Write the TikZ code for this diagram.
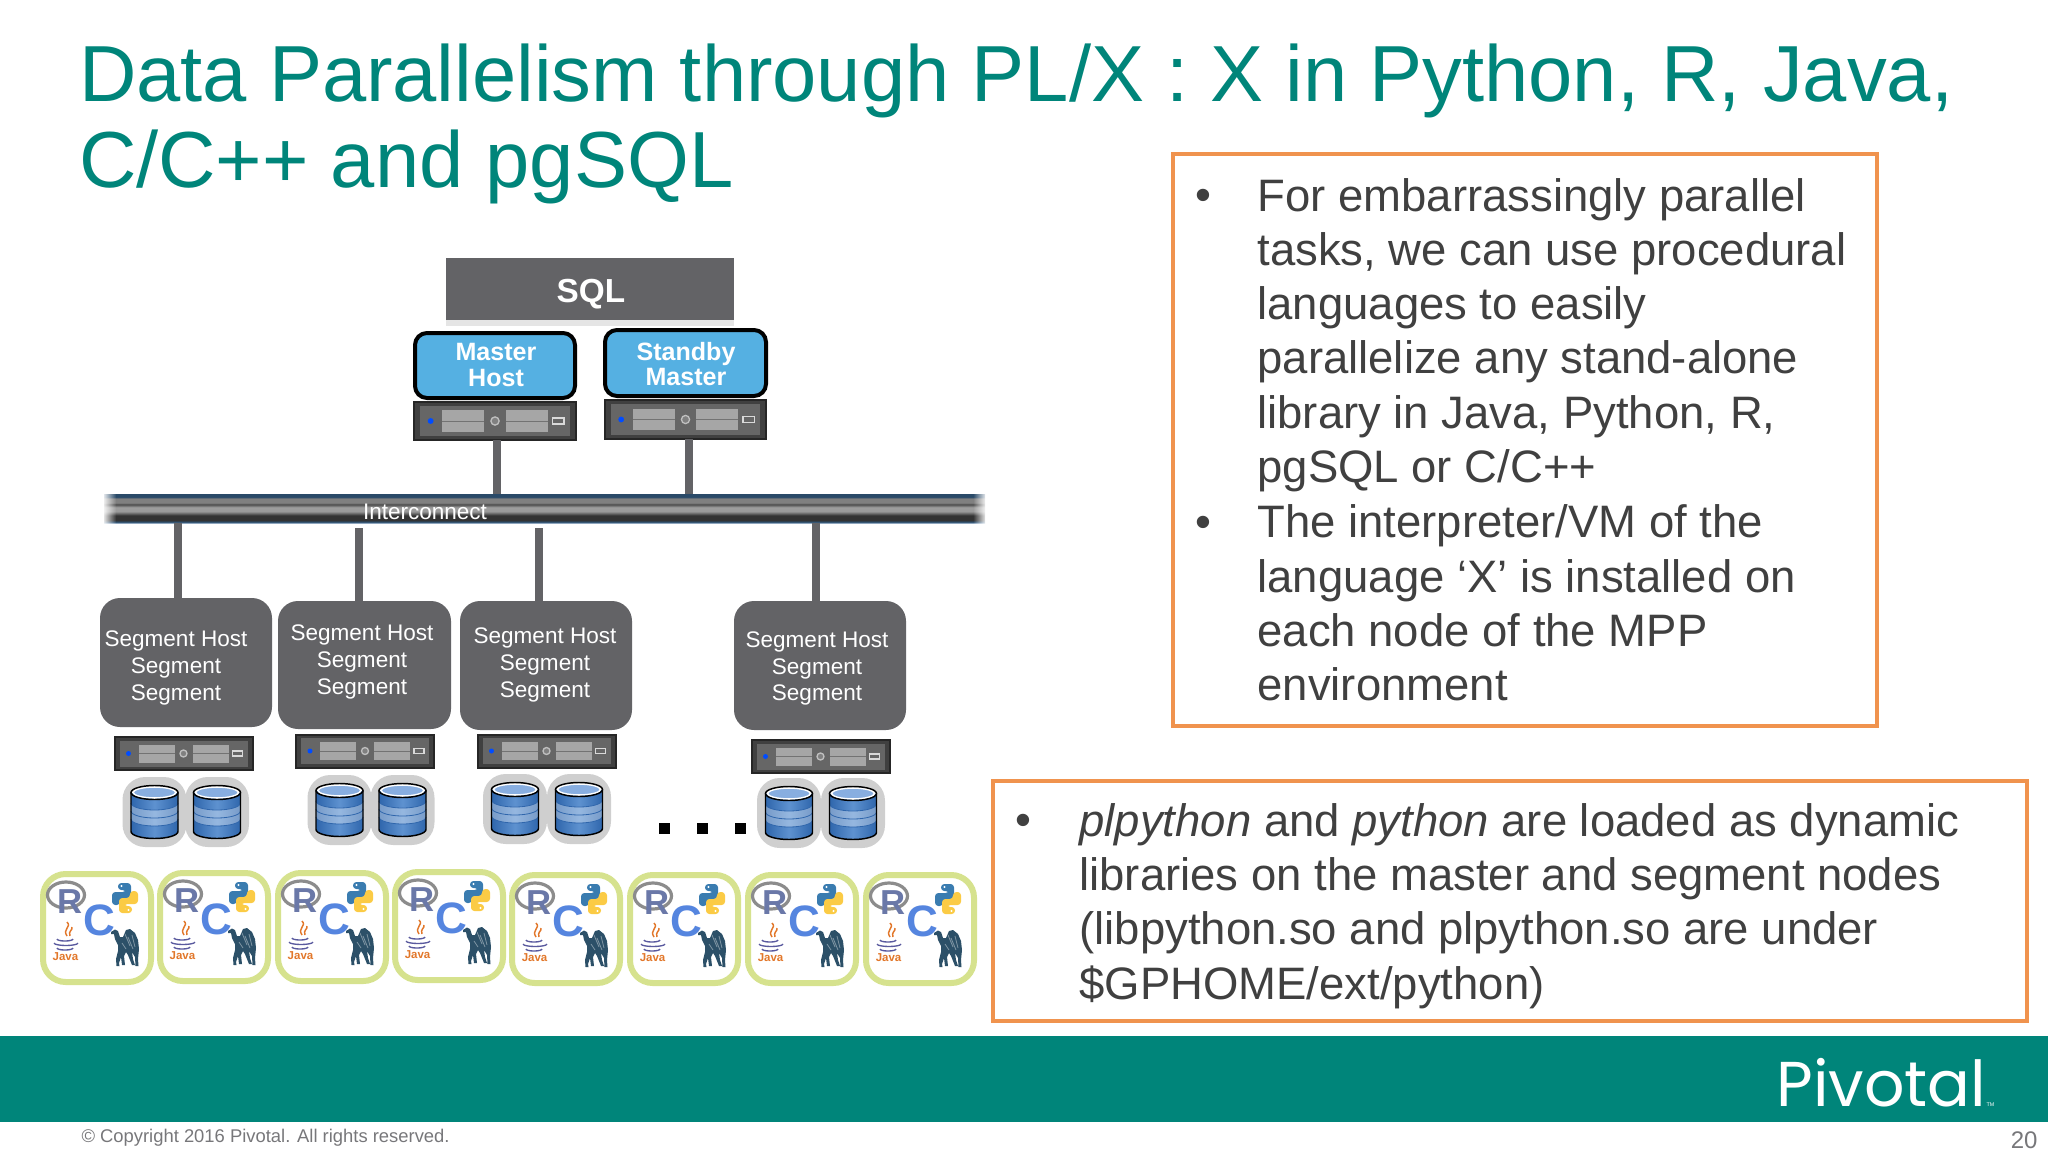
\documentclass[tikz,border=0pt]{standalone}
\usepackage{fontspec}
\usetikzlibrary{fadings}
\setmainfont{Liberation Sans}
\newfontfamily\logofont{Poppins}

\definecolor{tealband}{HTML}{00857A}
\definecolor{boxorange}{HTML}{F0934E}
\definecolor{slategrey}{HTML}{636366}
\definecolor{hostblue}{HTML}{55B0E2}
\definecolor{tilegreen}{HTML}{D6E28E}
\definecolor{footgrey}{HTML}{77777A}
\definecolor{pyblue}{HTML}{3A7CB0}
\definecolor{pyyellow}{HTML}{FBCB45}
\definecolor{javaorange}{HTML}{E2772A}
\definecolor{camelblue}{HTML}{2C5068}
\definecolor{rslate}{HTML}{6A78A8}
\definecolor{cblue}{HTML}{5585DF}
\definecolor{busnavy}{HTML}{2A4A68}
\definecolor{busedge}{HTML}{8FA6BE}
\definecolor{dbdark}{HTML}{2F66AC}
\definecolor{dbmid}{HTML}{5E92D0}
\definecolor{dbtop}{HTML}{88AEE0}

\pgfdeclareverticalshading{busshade}{100bp}{
  color(0bp)=(busedge);
  color(25bp)=(busedge);
  color(27bp)=(busnavy);
  color(30bp)=(black!80);
  color(38bp)=(black!80);
  color(45bp)=(black!40);
  color(52bp)=(black!38);
  color(57bp)=(black!70);
  color(60bp)=(black!50);
  color(67bp)=(black!50);
  color(70bp)=(busnavy);
  color(75bp)=(busnavy);
  color(100bp)=(busnavy)}

\tikzset{
  every picture/.style={line width=0.75pt},
  every pic/.style={yscale=-1},
  boxsize/.style 2 args={minimum width=#1*0.75pt,minimum height=#2*0.75pt,inner sep=0pt,outer sep=0pt},
  sqlbox/.style={fill=slategrey},
  masterbox/.style={draw=black,line width=3pt,fill=hostblue,rounded corners=9pt},
  segbox/.style={fill=slategrey,rounded corners=15pt},
  calloutbox/.style={draw=boxorange,line width=3.5pt},
  link/.style={draw=slategrey,line width=6pt},
  titletext/.style={text=tealband,align=left,font=\fontsize{59.65}{64}\selectfont},
  bodytext/.style={text=black!75,align=left,font=\fontsize{34.1}{40.7}\selectfont},
  boldtext/.style={text=white,align=center,font=\bfseries\fontsize{18.8}{18.8}\selectfont},
  seglabel/.style={text=white,align=center,font=\fontsize{16.9}{20}\selectfont},
  srvframe/.pic={
    \node[boxsize={138}{33},fill=black!75,draw=black!85,line width=1.5pt,transform shape] (-body) at (0,0) {};
    \fill[black!60] (-64,-13) rectangle (64,13);
    \fill[black!35] (-45,-9) rectangle (-9,9);
    \fill[black!35] (9,-9) rectangle (45,9);
    \draw[black!55,line width=0.5pt] (-45,0) -- (-9,0) (9,0) -- (45,0);
    \fill[blue!70!cyan] (-55,0) circle (2.5);
    \draw[black!25,fill=black!50,line width=1pt] (0,0) circle (3.5);
    \draw[black!15,line width=1pt] (49,-2.5) rectangle (59,2.5);
  },
  dbicon/.pic={
    \fill[black!19,rounded corners=17pt] (-32,-35) rectangle (32,35);
    \path[left color=dbdark,right color=dbdark,middle color=dbmid]
      (-23.5,-19.5) -- (-23.5,19.5) arc (180:0:23.5 and 7) -- (23.5,-19.5) -- cycle;
    \fill[white,opacity=0.35] (-23.5,-9) arc (180:0:23.5 and 7) -- (23.5,7) arc (0:180:23.5 and 7) -- cycle;
    \draw[dbdark,line width=0.6pt] (-23.5,-9) arc (180:0:23.5 and 7) (-23.5,-1) arc (180:0:23.5 and 7) (-23.5,7) arc (180:0:23.5 and 7);
    \draw[black,line width=1.1pt] (-23.5,-19.5) -- (-23.5,19.5) arc (180:0:23.5 and 7) -- (23.5,-19.5);
    \draw[white,fill=dbtop,line width=1.2pt] (0,-19.5) ellipse (21.5 and 5.5);
    \draw[black,line width=1.1pt] (0,-19.5) ellipse (23.5 and 7);
  },
  langtile/.pic={
    \draw[draw=tilegreen,fill=white,line width=4.5pt,rounded corners=17pt] (3,3) rectangle (111,111);
    % R logo
    \draw[black!45,line width=2.4pt] (26,24) ellipse (18.5 and 13);
    \node[font=\bfseries\fontsize{26}{26}\selectfont,text=rslate,inner sep=0pt] (-r) at (30,30.5) {R};
    % C
    \node[font=\bfseries\fontsize{33}{33}\selectfont,text=cblue,inner sep=0pt] (-c) at (59,49) {C};
    % python
    \fill[pyblue,rounded corners=2.5pt] (78,12) -- (91,12) -- (91,27) -- (80,27) -- (80,34) -- (72,34) -- (72,21) -- (86,21) -- (86,19) -- (78,19) -- cycle;
    \fill[pyyellow,rounded corners=2.5pt,rotate around={180:(85,27)}] (78,12) -- (91,12) -- (91,27) -- (80,27) -- (80,34) -- (72,34) -- (72,21) -- (86,21) -- (86,19) -- (78,19) -- cycle;
    \fill[white] (81.5,15) circle (1.1) (88.5,39) circle (1.1);
    % java
    \draw[javaorange,line width=1.1pt] (27,51) .. controls (32,56) and (22,58) .. (27,65) (32,56) .. controls (33,59) and (28,60) .. (30,65);
    \draw[black!10!blue!30!gray,line width=1pt] (17,68) arc (180:0:8 and 2) (14,72) arc (180:0:12 and 2.5) (17,77) arc (180:0:8 and 2);
    \node[font=\bfseries\fontsize{8.6}{8.6}\selectfont,text=javaorange,inner sep=0pt] (-j) at (25.5,86) {Java};
    % camel
    \fill[camelblue] (71,61) -- (75,58.5) -- (78,60) -- (80,66) -- (83,66) -- (86,59) -- (90,58) -- (95,62) -- (98,69) -- (99,78) -- (98,88) -- (98.5,95) -- (95.5,95) -- (95,86) -- (92,81) -- (93,88) -- (95,94) -- (92,94) -- (88,84) -- (86,81) -- (84,85) -- (85,94) -- (82,94) -- (81,86) -- (79,92) -- (79.5,95) -- (76.5,95) -- (76,88) -- (78,80) -- (78,74) -- (75,68) -- (74,63) -- (71,63) -- cycle;
    \draw[white,opacity=0.4,line width=0.6pt] (85,63) -- (90,75) (92,64) -- (95,76) (82,72) -- (86,78) (88,66) -- (93,78);
  }
}

\begin{document}
\begin{tikzpicture}[x=0.75pt,y=0.75pt,yscale=-1,xscale=1]
\useasboundingbox (0,0) rectangle (2048,1152);

% Title
\node[titletext,anchor=west,inner sep=0pt] (title) at (78.5,124) {Data Parallelism through PL/X : X in Python, R, Java,\\C/C++ and pgSQL};

% Footer band
\node[boxsize={2048}{86},fill=tealband,anchor=north west] (band) at (0,1036) {};
\node[text=white,anchor=base west,inner sep=0pt,font=\logofont\fontsize{47.5}{47.5}\selectfont] (logo) at (1776,1106) {Pivotal};
\node[text=white,anchor=base west,inner sep=0pt,font=\fontsize{4}{4}\selectfont] (tm) at (1986,1106) {TM};
\node[text=footgrey,anchor=west,inner sep=0pt,font=\fontsize{13.8}{13.8}\selectfont] (copyright) at (81,1138) {© Copyright 2016 Pivotal. All rights reserved.};
\node[text=footgrey,anchor=east,inner sep=0pt,font=\fontsize{18}{18}\selectfont] (pageno) at (2038,1140) {20};

% SQL and masters
\fill[black!10] (446,262) rectangle (734,326);
\node[boxsize={288}{62},sqlbox] (sql) at (590,289) {};
\node[boldtext,font=\bfseries\fontsize{25}{25}\selectfont] (sqltext) at (591,294) {SQL};
\node[boxsize={160}{65},masterbox,align=center] (master) at (495,365.5) {};
\node[boxsize={161}{66},masterbox] (standby) at (685.5,363) {};
\node[boldtext] (mastertext) at (496,365) {Master\\Host};
\node[boldtext] (standbytext) at (686,364) {Standby\\Master};
\pic[scale=1.17] (srvm) at (495,421) {srvframe};
\pic[scale=1.17] (srvs) at (685.5,419.5) {srvframe};

% Interconnect
\node[boxsize={881}{29},shading=busshade] (bus) at (544.5,508.5) {};
\fill[white,path fading=east] (102,490) rectangle (116,527);
\fill[white,path fading=west] (973,490) rectangle (987,527);
\coordinate (dropm) at (497,470);
\coordinate (drops) at (689,470);
\coordinate (dropa) at (178,560);
\coordinate (dropb) at (359,560);
\coordinate (dropc) at (539,560);
\coordinate (dropd) at (816,560);

% Segment hosts
\node[boxsize={172}{129},segbox] (sega) at (186,662.5) {};
\node[boxsize={173}{128},segbox] (segb) at (364.5,665) {};
\node[boxsize={172}{129},segbox] (segc) at (546,665.5) {};
\node[boxsize={172}{129},segbox] (segd) at (820,665.5) {};

% Straight lines
\draw[link] (srvm-body.north -| dropm) -- (dropm |- bus.north);
\draw[link] (srvs-body.north -| drops) -- (drops |- bus.north);
\draw[link] (dropa |- bus.south) -- (dropa |- sega.north);
\draw[link,shorten <=3.75pt] (dropb |- bus.south) -- (dropb |- segb.north);
\draw[link,shorten <=3.75pt] (dropc |- bus.south) -- (dropc |- segc.north);
\draw[link] (dropd |- bus.south) -- (dropd |- segd.north);

\node[seglabel] (bustext) at (425,512) {Interconnect};
\node[seglabel] (labela) at (176,668) {Segment Host\\Segment\\Segment};
\node[seglabel] (labelb) at (362,662) {Segment Host\\Segment\\Segment};
\node[seglabel] (labelc) at (545,665) {Segment Host\\Segment\\Segment};
\node[seglabel] (labeld) at (817,668.5) {Segment Host\\Segment\\Segment};

% Servers
\pic (srva) at (183.5,753.5) {srvframe};
\pic (srvb) at (365,751) {srvframe};
\pic (srvc) at (546.5,751) {srvframe};
\pic (srvd) at (820.5,756.5) {srvframe};

% Disks
\pic at (154.5,812) {dbicon};
\pic at (217,812) {dbicon};
\pic at (339.5,810) {dbicon};
\pic at (402.5,810) {dbicon};
\pic at (515,809) {dbicon};
\pic at (579,809) {dbicon};
\pic at (789,813) {dbicon};
\pic at (853,813) {dbicon};

% Dots
\foreach \dotx in {664,702,740}
  \fill[black] (\dotx-5.5,823) rectangle (\dotx+5.5,834);

% Language tiles
\foreach \tilex/\tiley [count=\i] in {40/871,157/870,275/870,392/869,509/872,627/872,745/872,863/872}
  \pic (tile\i) at (\tilex,\tiley) {langtile};

% Callouts
\node[boxsize={704}{572},calloutbox,anchor=north west] (callouta) at (1173,154) {};
\node[boxsize={1034}{240},calloutbox,anchor=north west] (calloutb) at (993,781) {};

\node[bodytext,anchor=west,inner sep=0pt] (bula) at (1195,200) {•};
\node[bodytext,anchor=west,inner sep=0pt] (paraa) at (1257,335) {For embarrassingly parallel\\tasks, we can use procedural\\languages to easily\\parallelize any stand-alone\\library in Java, Python, R,\\pgSQL or C/C++};
\node[bodytext,anchor=west,inner sep=0pt] (bulb) at (1195,527) {•};
\node[bodytext,anchor=west,inner sep=0pt] (parab) at (1257,603) {The interpreter/VM of the\\language ‘X’ is installed on\\each node of the MPP\\environment};
\node[bodytext,anchor=west,inner sep=0pt] (bulc) at (1015,825) {•};
\node[bodytext,anchor=west,inner sep=0pt] (parac) at (1079,906) {\textit{plpython} and \textit{python} are loaded as dynamic\\libraries on the master and segment nodes\\(libpython.so and plpython.so are under\\\$GPHOME/ext/python)};

\end{tikzpicture}
\end{document}
